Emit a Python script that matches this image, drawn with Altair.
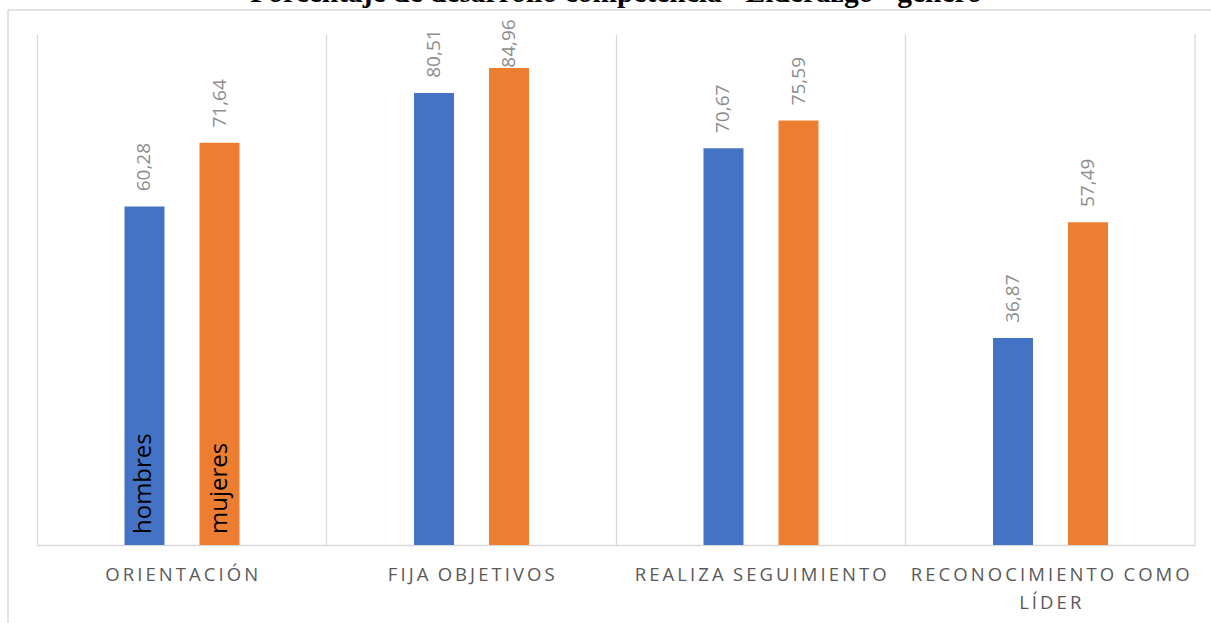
import altair as alt
import pandas as pd

categorias = ["ORIENTACIÓN", "FIJA OBJETIVOS", "REALIZA SEGUIMIENTO", "RECONOCIMIENTO COMO LÍDER"]
series = ["hombres", "mujeres"]
hombres = [60.28, 80.51, 70.67, 36.87]
mujeres = [71.64, 84.96, 75.59, 57.49]
colores = ["#4472C4", "#ED7D31"]
titulo = 'Porcentaje de desarrollo competencia "Liderazgo" género'

rows = []
for i, c in enumerate(categorias):
    rows.append({"cat": c, "serie": "hombres", "valor": hombres[i]})
    rows.append({"cat": c, "serie": "mujeres", "valor": mujeres[i]})
df = pd.DataFrame(rows)
df["etiqueta"] = df["valor"].map(lambda v: f"{v:.2f}".replace(".", ","))

SP = "\u2009"
WSP = "\u2002"
def spaced(s):
    return WSP.join(SP.join(w) for w in s.split(" "))

def js(s):
    return "'" + s.replace("'", "\\'") + "'"

expr_parts = []
for c in categorias:
    if c == "RECONOCIMIENTO COMO LÍDER":
        val = "[" + js(spaced("RECONOCIMIENTO COMO")) + "," + js(spaced("LÍDER")) + "]"
    else:
        val = js(spaced(c))
    expr_parts.append((c, val))
label_expr = ""
for c, val in expr_parts[:-1]:
    label_expr += f"datum.label == {js(c)} ? {val} : "
label_expr += expr_parts[-1][1]

W, H = 1158, 511
GRID = "#D9D9D9"

x_enc = alt.X(
    "cat:N",
    sort=categorias,
    scale=alt.Scale(paddingInner=0, paddingOuter=0),
    axis=alt.Axis(
        title=None,
        grid=True,
        gridColor=GRID,
        gridWidth=1.2,
        bandPosition=0,
        ticks=False,
        domainColor=GRID,
        domainWidth=1.5,
        labelAngle=0,
        labelFont="Open Sans",
        labelFontSize=18.5,
        labelColor="#595959",
        labelPadding=20,
        labelLineHeight=28,
        labelLimit=0,
        labelExpr=label_expr,
    ),
)
xoff = alt.XOffset(
    "serie:N",
    sort=series,
    scale=alt.Scale(domain=series, range=[87.5, 202.5], paddingInner=0.4667, paddingOuter=0),
)
y_scale = alt.Scale(domain=[0, 91])

base = alt.Chart(df)

bars = base.mark_bar().encode(
    x=x_enc,
    xOffset=xoff,
    y=alt.Y("valor:Q", scale=y_scale, axis=None),
    color=alt.Color("serie:N", scale=alt.Scale(domain=series, range=colores), legend=None),
)

labels = base.transform_calculate(
    ypos="min(datum.valor + 2.7, 85)"
).mark_text(
    angle=270, align="left", baseline="middle", font="Open Sans", fontSize=19, color="#8C8C8C"
).encode(
    x=x_enc,
    xOffset=xoff,
    y=alt.Y("ypos:Q", scale=y_scale, axis=None),
    text="etiqueta:N",
)

serie_labels = base.transform_filter(
    alt.datum.cat == categorias[0]
).transform_calculate(
    cero="0"
).mark_text(
    angle=270, align="left", baseline="middle", font="Open Sans", fontSize=24, color="black", dx=11
).encode(
    x=x_enc,
    xOffset=xoff,
    y=alt.Y("cero:Q", scale=y_scale, axis=None),
    text="serie:N",
)

deco = alt.Chart(pd.DataFrame({"k": [0]}))
right_rule = deco.mark_rule(color=GRID, strokeWidth=1.2).encode(
    x=alt.value(W), y=alt.value(0), y2=alt.value(H)
)
top_border = deco.mark_rule(color=GRID, strokeWidth=1.5).encode(
    x=alt.value(-29), x2=alt.value(1211 - 37), y=alt.value(-24)
)
left_border = deco.mark_rule(color=GRID, strokeWidth=1.5).encode(
    x=alt.value(-29), y=alt.value(-24), y2=alt.value(623 - 34)
)

chart = alt.layer(bars, labels, serie_labels, right_rule, top_border, left_border).properties(
    width=W,
    height=H,
    padding={"left": 37, "top": 34, "right": 16, "bottom": 78},
    autosize=alt.AutoSizeParams(type="none"),
    title=alt.TitleParams(
        titulo,
        font="Liberation Serif",
        fontSize=29.5,
        fontWeight="bold",
        color="black",
        anchor="middle",
        baseline="alphabetic",
        offset=14,
        dy=36,
    ),
    background="white",
).configure_view(stroke=None)

chart.save("out.html", embed_options={"renderer": "svg", "actions": False})
